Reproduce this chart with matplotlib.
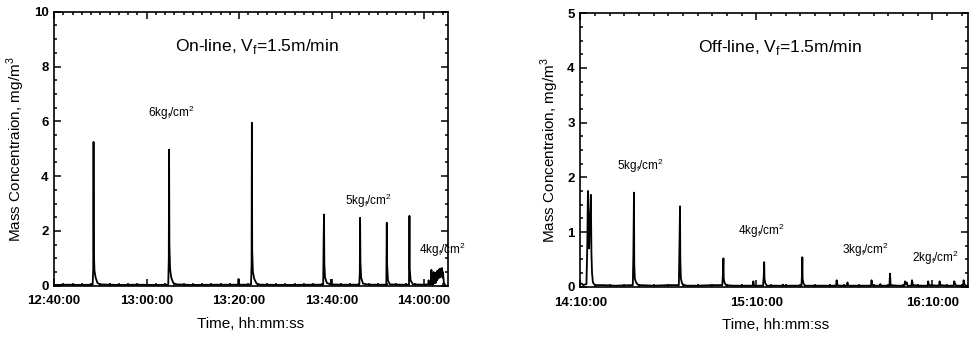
import matplotlib
matplotlib.use("Agg")
import matplotlib.pyplot as plt
from matplotlib.ticker import MultipleLocator

plt.rcParams['font.family'] = ['Liberation Sans', 'DejaVu Sans']

# on-line run, minutes after 12:40:00
on_t = [0, 3, 6, 8.35, 8.48, 8.55, 8.62, 8.75, 9.0, 9.4, 10, 14, 18, 22,
        24.7, 24.82, 24.88, 24.95, 25.1, 25.35, 25.8, 26.5, 30, 35,
        39.8, 39.9, 40.0, 42, 42.6, 42.72, 42.78, 42.85, 43.0, 43.3, 43.8, 44.5,
        50, 56, 58.2, 58.3, 58.38, 58.45, 58.6, 59.0, 59.8, 59.9, 60.0, 62,
        66.0, 66.12, 66.18, 66.25, 66.4, 66.8, 68,
        71.85, 71.95, 72.02, 72.2, 72.6, 75,
        76.75, 76.85, 76.92, 77.1, 77.6, 80, 80.9, 81.0, 81.1,
        81.5, 81.6, 81.7, 82.0, 82.1, 82.2, 82.4, 82.5, 82.7, 82.8, 82.9,
        83.0, 83.1, 83.2, 83.3, 83.4, 83.5, 83.6, 83.7, 83.8, 83.9, 84.0,
        84.1, 84.3, 84.5]
on_c = [0.03, 0.04, 0.03, 0.04, 0.6, 5.25, 1.2, 0.55, 0.3, 0.1, 0.05, 0.03, 0.04, 0.03,
        0.04, 1.0, 4.97, 1.5, 0.6, 0.3, 0.1, 0.05, 0.03, 0.04,
        0.04, 0.25, 0.04, 0.04, 0.05, 0.8, 5.95, 1.3, 0.5, 0.25, 0.08, 0.04,
        0.03, 0.04, 0.04, 1.7, 2.6, 0.8, 0.3, 0.1, 0.05, 0.22, 0.05, 0.04,
        0.04, 0.5, 2.48, 0.9, 0.3, 0.08, 0.04,
        0.04, 2.3, 0.8, 0.2, 0.05, 0.04,
        0.04, 2.55, 0.6, 0.2, 0.05, 0.04, 0.05, 0.2, 0.05,
        0.04, 0.58, 0.05, 0.04, 0.5, 0.1, 0.45, 0.1, 0.5, 0.2, 0.55,
        0.25, 0.55, 0.3, 0.6, 0.3, 0.62, 0.35, 0.6, 0.4, 0.65, 0.3,
        0.5, 0.1, 0.05]

# off-line run, minutes after 14:10:00
off_t = [0, 0.5, 1.0, 1.5, 2.1, 2.4, 2.6, 2.8, 3.0, 3.3, 3.6, 3.8, 4.0, 4.3, 4.8, 5.5, 8, 12,
         17.9, 18.1, 18.3, 18.4, 18.6, 19.0, 19.6, 20.5, 25, 30,
         33.6, 33.8, 34.0, 34.1, 34.3, 34.7, 35.4, 36.5, 40, 45,
         48.4, 48.65, 48.8, 48.9, 49.2, 49.7, 52, 55, 58.8, 59.0, 59.2,
         62.3, 62.55, 62.7, 62.8, 63.1, 63.6, 66, 69.0, 69.1, 69.2, 72,
         75.4, 75.6, 75.7, 75.8, 76.1, 76.6, 80, 84,
         87.2, 87.4, 87.6, 88.0, 90.9, 91.1, 91.3, 95,
         99.1, 99.3, 99.5, 99.9, 102.1, 102.3, 102.5, 105.4, 105.6, 105.8, 108,
         110.5, 110.7, 111.0, 111.3, 111.6, 112.9, 113.1, 113.4, 116,
         118.4, 118.6, 118.9, 122.3, 122.5, 122.8, 125,
         127.3, 127.5, 127.8, 128.2, 130.5, 130.7, 131.0, 131.5, 132.3]
off_c = [0.05, 0.06, 0.03, 0.04, 0.05, 0.8, 1.75, 0.9, 0.7, 1.3, 1.68, 0.6, 0.25, 0.08, 0.04, 0.03, 0.03, 0.02,
         0.03, 0.6, 1.72, 0.4, 0.15, 0.08, 0.04, 0.03, 0.02, 0.03,
         0.03, 0.7, 1.47, 0.5, 0.15, 0.06, 0.03, 0.02, 0.02, 0.03,
         0.03, 0.25, 0.52, 0.15, 0.07, 0.03, 0.02, 0.02, 0.02, 0.1, 0.02,
         0.02, 0.2, 0.45, 0.15, 0.06, 0.02, 0.02, 0.02, 0.04, 0.02, 0.02,
         0.02, 0.25, 0.54, 0.15, 0.06, 0.02, 0.02, 0.02,
         0.02, 0.12, 0.05, 0.02, 0.02, 0.08, 0.02, 0.02,
         0.02, 0.12, 0.05, 0.02, 0.02, 0.05, 0.02, 0.02, 0.24, 0.03, 0.02,
         0.02, 0.1, 0.05, 0.08, 0.02, 0.02, 0.12, 0.03, 0.02,
         0.02, 0.1, 0.03, 0.02, 0.1, 0.03, 0.02,
         0.02, 0.1, 0.05, 0.02, 0.02, 0.12, 0.04, 0.02, 0.02]

on_ticks = [0, 20, 40, 60, 80]
on_labels = ['12:40:00', '13:00:00', '13:20:00', '13:40:00', '14:00:00']
off_ticks = [0, 60, 120]
off_labels = ['14:10:00', '15:10:00', '16:10:00']

on_notes = [('6kg$_\\mathregular{f}$/cm$^\\mathregular{2}$', 25.5, 6.3),
            ('5kg$_\\mathregular{f}$/cm$^\\mathregular{2}$', 68.1, 3.1),
            ('4kg$_\\mathregular{f}$/cm$^\\mathregular{2}$', 83.9, 1.3)]
off_notes = [('5kg$_\\mathregular{f}$/cm$^\\mathregular{2}$', 20.4, 2.2),
             ('4kg$_\\mathregular{f}$/cm$^\\mathregular{2}$', 61.9, 1.02),
             ('3kg$_\\mathregular{f}$/cm$^\\mathregular{2}$', 97.3, 0.68),
             ('2kg$_\\mathregular{f}$/cm$^\\mathregular{2}$', 121.2, 0.53)]

fig = plt.figure(figsize=(9.73, 3.37), dpi=100, facecolor='w')
ax1 = fig.add_axes([0.0555, 0.152, 0.405, 0.813])
ax2 = fig.add_axes([0.5964, 0.149, 0.3988, 0.812])


def style(ax, xmax, ymax, ymaj, ymin, xmin_step, ticks, labels, title, lx, ly):
    ax.set_xlim(0, xmax)
    ax.set_ylim(0, ymax)
    ax.set_xticks(ticks)
    ax.set_xticklabels(labels)
    ax.xaxis.set_minor_locator(MultipleLocator(xmin_step))
    ax.yaxis.set_major_locator(MultipleLocator(ymaj))
    ax.yaxis.set_minor_locator(MultipleLocator(ymin))
    ax.tick_params(which='both', direction='in', top=True, right=True, width=1.1)
    ax.tick_params(which='major', length=5)
    ax.tick_params(which='minor', length=2.5)
    ax.tick_params(axis='x', pad=7)
    ax.tick_params(axis='y', pad=4)
    for lab in ax.get_xticklabels() + ax.get_yticklabels():
        lab.set_fontsize(9.5)
        lab.set_fontweight('bold')
    for sp in ax.spines.values():
        sp.set_linewidth(1.2)
    ax.set_xlabel('Time, hh:mm:ss', fontsize=11)
    ax.set_ylabel('Mass Concentraion, mg/m$^\\mathregular{3}$', fontsize=11)
    ax.xaxis.set_label_coords(lx, -0.115)
    ax.yaxis.set_label_coords(ly, 0.5)
    ax.text(0.515, 0.875, title, transform=ax.transAxes, ha='center', va='center', fontsize=12.5)


ax1.plot(on_t, on_c, color='k', lw=1.3)
style(ax1, 85.2, 10, 2, 0.5, 2, on_ticks, on_labels,
      'On-line, V$_\\mathregular{f}$=1.5m/min', 0.498, -0.068)
for s, x, y in on_notes:
    ax1.text(x, y, s, ha='center', va='center', fontsize=8.5)

ax2.plot(off_t, off_c, color='k', lw=1.3)
style(ax2, 132.3, 5, 1, 0.25, 5, off_ticks, off_labels,
      'Off-line, V$_\\mathregular{f}$=1.5m/min', 0.504, -0.05)
for s, x, y in off_notes:
    ax2.text(x, y, s, ha='center', va='center', fontsize=8.5)

plt.savefig('out.png', dpi=100)
